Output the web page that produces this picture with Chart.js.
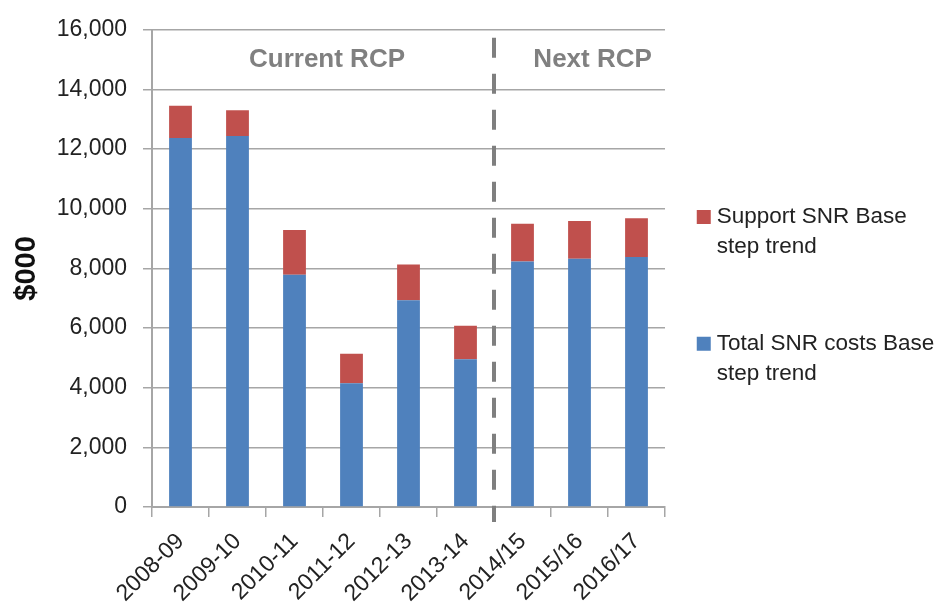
<!DOCTYPE html>
<html>
<head>
<meta charset="utf-8">
<script src="https://cdn.jsdelivr.net/npm/chart.js@4"></script>
<style>
  html, body { margin: 0; padding: 0; background: #ffffff; }
  #wrap { width: 940px; height: 603px; }
</style>
</head>
<body>
<div id="wrap"><canvas id="chart" width="940" height="603"></canvas></div>
<script>
// Financial years
const years = ['2008-09', '2009-10', '2010-11', '2011-12', '2012-13', '2013-14', '2014/15', '2015/16', '2016/17'];
// Total SNR costs, base step trend ($000)
const totalSnrCosts = [12370, 12440, 7790, 4150, 6930, 4950, 8230, 8320, 8380];
// Support SNR, base step trend ($000), stacked on top of the total
const supportSnr = [1080, 860, 1500, 990, 1200, 1130, 1270, 1270, 1300];
const seriesNames = ['Total SNR costs Base step trend', 'Support SNR Base step trend'];
// Value axis
const yTickValues = [0, 2000, 4000, 6000, 8000, 10000, 12000, 14000, 16000];
const yAxisTitle = '$000';
// Regulatory control periods and the first year of the next one
const periodNames = ['Current RCP', 'Next RCP'];
const nextPeriodStart = '2014/15';

// Legend labels wrap before "step trend"; a trailing empty line spaces the entries
function legendLines(name) {
  const i = name.indexOf(' step trend');
  return i < 0 ? [name, ''] : [name.slice(0, i), name.slice(i + 1), ''];
}

// Dashed divider between the two periods plus the period captions
const periodMarks = {
  id: 'periodMarks',
  afterDraw(chart, args, opts) {
    const { ctx, chartArea, scales: { x, y } } = chart;
    const split = years.indexOf(nextPeriodStart) - 0.5;
    const bx = x.getPixelForValue(split);
    ctx.save();
    ctx.strokeStyle = opts.lineColor;
    ctx.lineWidth = opts.lineWidth;
    ctx.setLineDash(opts.dash);
    ctx.beginPath();
    ctx.moveTo(bx, chartArea.top + opts.topInset);
    ctx.lineTo(bx, chartArea.bottom + opts.bottomOverhang);
    ctx.stroke();
    ctx.setLineDash([]);
    ctx.fillStyle = opts.textColor;
    ctx.font = opts.font;
    ctx.textAlign = 'center';
    ctx.textBaseline = 'middle';
    const ty = y.getPixelForValue(opts.textValue);
    periodNames.forEach((name, i) => {
      ctx.fillText(name, x.getPixelForValue(opts.textIndex[i]), ty);
    });
    ctx.restore();
  }
};

Chart.defaults.font.family = "'Liberation Sans', Arial, sans-serif";
Chart.defaults.color = '#222222';

const gridGrey = '#a6a6a6';

new Chart(document.getElementById('chart'), {
  type: 'bar',
  data: {
    labels: years,
    datasets: [
      { label: seriesNames[0], data: totalSnrCosts, backgroundColor: '#4F81BD', borderWidth: 0 },
      { label: seriesNames[1], data: supportSnr, backgroundColor: '#C0504D', borderWidth: 0 }
    ]
  },
  options: {
    responsive: false,
    animation: false,
    layout: { padding: { top: 25, right: 0, bottom: 0, left: 0 } },
    datasets: { bar: { barPercentage: 0.4, categoryPercentage: 1.0 } },
    scales: {
      x: {
        stacked: true,
        grid: { display: true, drawOnChartArea: false, drawTicks: true, tickLength: 10, color: gridGrey, lineWidth: 1.5, offset: true },
        border: { display: true, color: gridGrey, width: 2 },
        ticks: { autoSkip: false, maxRotation: 45, minRotation: 45, padding: 11, color: '#222222', font: { size: 23 } },
        afterFit: (s) => { s.height = 96; }
      },
      y: {
        stacked: true,
        min: yTickValues[0],
        max: yTickValues[yTickValues.length - 1],
        afterBuildTicks: (s) => { s.ticks = yTickValues.map(v => ({ value: v })); },
        grid: { color: gridGrey, lineWidth: 1.5, tickLength: 9, drawTicks: true },
        border: { display: true, color: gridGrey, width: 2 },
        ticks: { padding: 16, color: '#222222', font: { size: 23 }, callback: (v) => Number(v).toLocaleString('en-US') },
        title: { display: true, text: yAxisTitle, color: '#111111', font: { size: 29, weight: 'bold' }, padding: { top: 10, bottom: 0 } },
        afterFit: (s) => { s.width = 152; }
      }
    },
    plugins: {
      tooltip: { enabled: false },
      legend: {
        position: 'right',
        reverse: true,
        maxWidth: 275,
        labels: {
          usePointStyle: true,
          pointStyle: 'rect',
          boxWidth: 3.5,
          boxHeight: 14,
          padding: 37,
          color: '#222222',
          font: { size: 22.5, lineHeight: 1.33 },
          generateLabels(chart) {
            const items = Chart.defaults.plugins.legend.labels.generateLabels(chart);
            return items.map(it => Object.assign({}, it, { text: legendLines(it.text), lineWidth: 0, pointStyle: 'rect' }));
          }
        }
      },
      periodMarks: {
        lineColor: '#7f7f7f',
        lineWidth: 4,
        dash: [20, 16],
        topInset: 8,
        bottomOverhang: 15,
        textColor: '#808080',
        font: "bold 26px 'Liberation Sans', Arial, sans-serif",
        textValue: 15000,
        textIndex: [2.57, 7.23]
      }
    }
  },
  plugins: [periodMarks]
});
</script>
</body>
</html>
